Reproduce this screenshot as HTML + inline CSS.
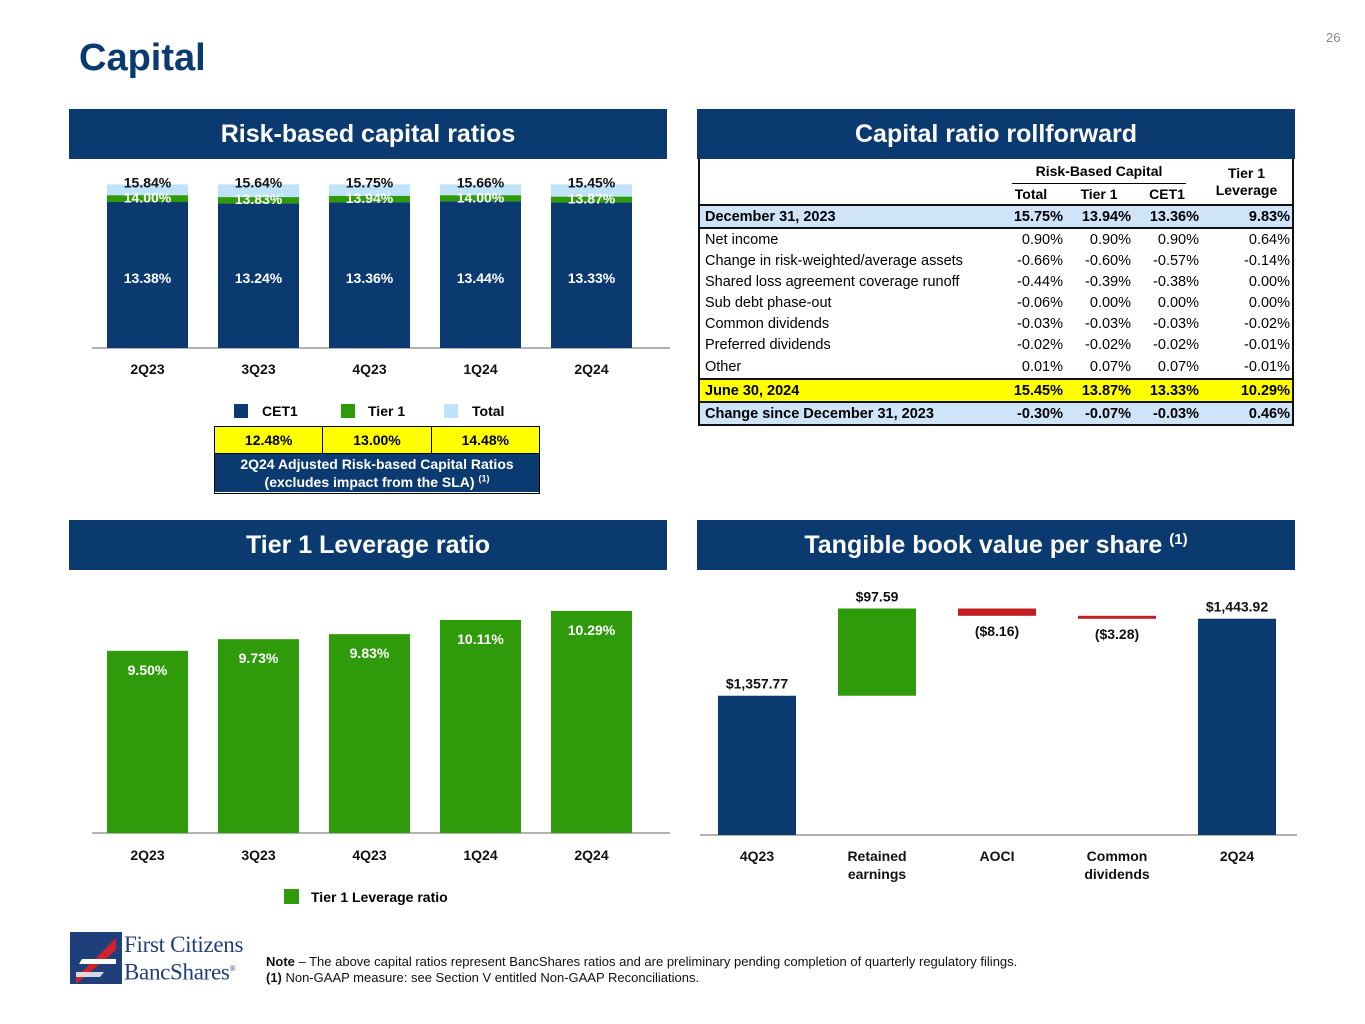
<!DOCTYPE html>
<html><head><meta charset="utf-8"><style>
body{margin:0;width:1365px;height:1024px;background:#fff;font-family:"Liberation Sans",Arial,sans-serif;position:relative;overflow:hidden}
.abs{position:absolute}
.hdr{position:absolute;background:#0b3a70;color:#fff;font-weight:bold;font-size:25px;text-align:center;line-height:50px;height:50px}
.hdr sup{font-size:15px;line-height:0;vertical-align:9px}
table{border-collapse:collapse;font-size:14.5px}
td{padding:0 2px;height:21px;text-align:right}
td:first-child{text-align:left;padding-left:5px}
</style></head><body>
<div class="abs" style="left:79px;top:37px;font-size:38px;font-weight:bold;color:#0b3a70">Capital</div>
<div class="abs" style="left:1326px;top:30px;font-size:13px;color:#888">26</div>

<div class="hdr" style="left:69px;top:109px;width:598px">Risk-based capital ratios</div>
<div class="hdr" style="left:697px;top:109px;width:598px">Capital ratio rollforward</div>
<div class="hdr" style="left:69px;top:520px;width:598px">Tier 1 Leverage ratio</div>
<div class="hdr" style="left:697px;top:520px;width:598px">Tangible book value per share <sup>(1)</sup></div>

<svg id="rb" class="abs" style="left:0;top:0" width="1365" height="1024"></svg>

<div class="abs" style="left:234px;top:403px;font-size:14px;font-weight:bold;width:300px;height:18px">
<span class="abs" style="left:0;top:1px;width:14px;height:14px;background:#0b3a70"></span><span class="abs" style="left:28px;top:0">CET1</span>
<span class="abs" style="left:107px;top:1px;width:14px;height:14px;background:#2f9a0a"></span><span class="abs" style="left:134px;top:0">Tier 1</span>
<span class="abs" style="left:210px;top:1px;width:14px;height:14px;background:#bfe3f8"></span><span class="abs" style="left:238px;top:0">Total</span>
</div>
<div class="abs" style="left:214px;top:426px;width:324px;height:66px;border:1px solid #000;font-weight:bold;font-size:14px">
<div style="display:flex;height:26px;background:#ffff00;line-height:26px;text-align:center">
<div style="flex:1;border-right:1px solid #000">12.48%</div><div style="flex:1;border-right:1px solid #000">13.00%</div><div style="flex:1">14.48%</div></div>
<div style="border-top:1px solid #000;background:#0b3a70;color:#fff;text-align:center;font-size:14px;line-height:18px;height:39px;padding-top:1px;box-sizing:border-box">2Q24 Adjusted Risk-based Capital Ratios<br>(excludes impact from the SLA) <sup style="font-size:9px;line-height:0">(1)</sup></div>
</div>

<div class="abs" style="left:698px;top:159px;width:596px;border:2px solid #111;border-top:none;box-sizing:border-box">
<table style="width:100%">
<tr style="height:24px;font-weight:bold;font-size:14px"><td></td><td colspan="3" style="text-align:center;position:relative;"><span style="border-bottom:1.5px solid #000;padding:0 24px 4px">Risk-Based Capital</span></td><td rowspan="2" style="text-align:center;line-height:17px">Tier 1<br>Leverage</td></tr>
<tr style="font-weight:bold;font-size:14px;border-bottom:2px solid #111"><td style="width:290px"></td><td style="text-align:center;width:64px">Total</td><td style="text-align:center;width:64px">Tier 1</td><td style="text-align:center;width:64px">CET1</td></tr>
<tr style="background:#cfe4f8;font-weight:bold;border-bottom:2px solid #111;height:22px"><td>December 31, 2023</td><td>15.75%</td><td>13.94%</td><td>13.36%</td><td>9.83%</td></tr>
<tr><td>Net income</td><td>0.90%</td><td>0.90%</td><td>0.90%</td><td>0.64%</td></tr>
<tr><td>Change in risk-weighted/average assets</td><td>-0.66%</td><td>-0.60%</td><td>-0.57%</td><td>-0.14%</td></tr>
<tr><td>Shared loss agreement coverage runoff</td><td>-0.44%</td><td>-0.39%</td><td>-0.38%</td><td>0.00%</td></tr>
<tr><td>Sub debt phase-out</td><td>-0.06%</td><td>0.00%</td><td>0.00%</td><td>0.00%</td></tr>
<tr><td>Common dividends</td><td>-0.03%</td><td>-0.03%</td><td>-0.03%</td><td>-0.02%</td></tr>
<tr><td>Preferred dividends</td><td>-0.02%</td><td>-0.02%</td><td>-0.02%</td><td>-0.01%</td></tr>
<tr style="height:24px"><td>Other</td><td>0.01%</td><td>0.07%</td><td>0.07%</td><td>-0.01%</td></tr>
<tr style="background:#ffff00;font-weight:bold;border-top:2px solid #111;border-bottom:2px solid #111;height:22px"><td>June 30, 2024</td><td>15.45%</td><td>13.87%</td><td>13.33%</td><td>10.29%</td></tr>
<tr style="background:#cfe4f8;font-weight:bold;height:22px"><td>Change since December 31, 2023</td><td>-0.30%</td><td>-0.07%</td><td>-0.03%</td><td>0.46%</td></tr>
</table></div>

<div class="abs" style="left:284px;top:889px;font-size:14px;font-weight:bold">
<span style="display:inline-block;width:15px;height:15px;background:#2f9a0a;vertical-align:-2px;margin-right:12px"></span>Tier 1 Leverage ratio</div>

<svg class="abs" style="left:70px;top:932px" width="52" height="52">
<rect width="52" height="52" fill="#1f3f7a"/><path d="M6 46 L46 6 L46 18 L6 52Z" fill="#d1222b"/><path d="M12 27 L46 27 L46 32 L9 32Z" fill="#fff"/><path d="M6 40 L34 40 L30 45 L6 45Z" fill="#fff" opacity=".8"/></svg>
<div class="abs" style="left:124px;top:933px;font-family:'Liberation Serif',serif;color:#1f3f7a;font-size:23px;line-height:24px;letter-spacing:-0.3px">First Citizens<br>BancShares<sup style="font-size:8px">®</sup></div>
<div class="abs" style="left:266px;top:954px;font-size:13px;line-height:16px;color:#111"><b>Note</b> – The above capital ratios represent BancShares ratios and are preliminary pending completion of quarterly regulatory filings.<br><b>(1)</b> Non-GAAP measure: see Section V entitled Non-GAAP Reconciliations.</div>

<script>
const rbCategories=["2Q23","3Q23","4Q23","1Q24","2Q24"];
const rbCET1=[13.38,13.24,13.36,13.44,13.33];
const rbTier1=[14.00,13.83,13.94,14.00,13.87];
const rbTotal=[15.84,15.64,15.75,15.66,15.45];
const levCategories=["2Q23","3Q23","4Q23","1Q24","2Q24"];
const levValues=[9.50,9.73,9.83,10.11,10.29];
const tbvCategories=["4Q23","Retained|earnings","AOCI","Common|dividends","2Q24"];
const tbvDeltas=[1357.77,97.59,-8.16,-3.28,1443.92];
const tbvLabels=["$1,357.77","$97.59","($8.16)","($3.28)","$1,443.92"];

const svg=document.getElementById('rb');
const NS="http://www.w3.org/2000/svg";
function mk(tag,attrs,name,text){const e=document.createElementNS(NS,tag);for(const k in attrs)e.setAttribute(k,attrs[k]);


if(text!==undefined)e.textContent=text;svg.appendChild(e);return e;}

const rbBase=348, rbScale=10.91, rbMax=15;
const rbY=v=>rbBase-Math.min(v,rbMax)*rbScale;
const rbX=i=>107+i*111;
mk('line',{x1:92,x2:670,y1:rbBase,y2:rbBase,stroke:'#999','stroke-width':1.5},'rb-axis');
rbCategories.forEach((c,i)=>{
 const x=rbX(i),w=81;
 mk('rect',{x:x,y:rbY(rbTotal[i]),width:w,height:rbY(rbTier1[i])-rbY(rbTotal[i]),fill:'#bfe3f8'},'bar-total-'+c);
 mk('rect',{x:x,y:rbY(rbTier1[i]),width:w,height:rbY(rbCET1[i])-rbY(rbTier1[i]),fill:'#2f9a0a'},'bar-tier1-'+c);
 mk('rect',{x:x,y:rbY(rbCET1[i]),width:w,height:rbBase-rbY(rbCET1[i]),fill:'#0b3a70'},'bar-cet1-'+c);
 mk('text',{x:x+w/2,y:rbY(rbTotal[i])+3,'text-anchor':'middle','font-size':14,'font-weight':'bold',fill:'#111'},'label-total-'+c,rbTotal[i].toFixed(2)+'%');
 mk('text',{x:x+w/2,y:rbY(rbTier1[i])+7,'text-anchor':'middle','font-size':14,'font-weight':'bold',fill:'#fff'},'label-tier1-'+c,rbTier1[i].toFixed(2)+'%');
 mk('text',{x:x+w/2,y:283,'text-anchor':'middle','font-size':14,'font-weight':'bold',fill:'#fff'},'label-cet1-'+c,rbCET1[i].toFixed(2)+'%');
 mk('text',{x:x+w/2,y:374,'text-anchor':'middle','font-size':14,'font-weight':'bold',fill:'#111'},'x-label-'+c,c);
});

const lvBase=833, lvScale=50.6, lvMin=5.9;
const lvY=v=>lvBase-(v-lvMin)*lvScale;
mk('line',{x1:92,x2:670,y1:lvBase,y2:lvBase,stroke:'#999','stroke-width':1.5},'lev-axis');
levCategories.forEach((c,i)=>{
 const x=rbX(i),w=81,y=lvY(levValues[i]);
 mk('rect',{x:x,y:y,width:w,height:lvBase-y,fill:'#2f9a0a'},'lev-bar-'+c);
 mk('text',{x:x+w/2,y:y+24,'text-anchor':'middle','font-size':14,'font-weight':'bold',fill:'#fff'},'lev-label-'+c,levValues[i].toFixed(2)+'%');
 mk('text',{x:x+w/2,y:860,'text-anchor':'middle','font-size':14,'font-weight':'bold',fill:'#111'},'lev-x-label-'+c,c);
});

const wfBase=835, wfScale=0.894, wfMin=1202;
const wfY=v=>wfBase-(v-wfMin)*wfScale;
mk('line',{x1:700,x2:1297,y1:wfBase,y2:wfBase,stroke:'#999','stroke-width':1.5},'tbv-axis');
let run=0;
tbvCategories.forEach((c,i)=>{
 const x=718+i*120,w=78,d=tbvDeltas[i];
 let top,bot,fill;
 if(i===0||i===tbvCategories.length-1){run=d;top=wfY(d);bot=wfBase;fill='#0b3a70';}
 else{const a=run,b=run+d;run=b;top=wfY(Math.max(a,b));bot=wfY(Math.min(a,b));fill=d>=0?'#2f9a0a':'#c0201f';}
 const h=Math.max(bot-top,3);
 mk('rect',{x:x,y:top,width:w,height:h,fill:fill},'tbv-bar-'+c.replace('|','-'));
 const ly=d>=0?top-7:top+h+20;
 mk('text',{x:x+w/2,y:ly,'text-anchor':'middle','font-size':14,'font-weight':'bold',fill:'#111'},'tbv-label-'+i,tbvLabels[i]);
 c.split('|').forEach((p,j)=>mk('text',{x:x+w/2,y:861+j*18,'text-anchor':'middle','font-size':14,'font-weight':'bold',fill:'#111'},'tbv-x-label-'+i+'-'+j,p));
});
</script>
</body></html>
